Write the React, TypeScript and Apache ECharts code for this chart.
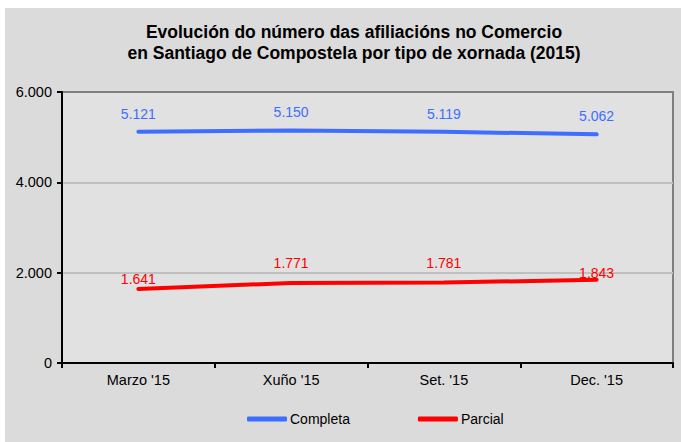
import React, { useEffect, useRef } from "react";
import * as echarts from "echarts";

const titleLines = [
  "Evolución do número das afiliacións no Comercio",
  "en Santiago de Compostela por tipo de xornada (2015)",
];
const categories = ["Marzo '15", "Xuño '15", "Set. '15", "Dec. '15"];
const completa = [5121, 5150, 5119, 5062];
const parcial = [1641, 1771, 1781, 1843];
const seriesNames = ["Completa", "Parcial"];
const yTickLabels = ["0", "2.000", "4.000", "6.000"];

const BLUE = "#3D6EFF";
const RED = "#FF0000";
const FONT = "'Liberation Sans', Arial, sans-serif";

const fmt = (v: number) => {
  const s = String(Math.round(v));
  return s.replace(/\B(?=(\d{3})+(?!\d))/g, ".");
};

const redLabelDistance = [3, 13, 13, 0];

export default function App() {
  const ref = useRef<HTMLDivElement>(null);
  useEffect(() => {
    if (!ref.current) return;
    const chart = echarts.init(ref.current, undefined, { renderer: "svg" });
    chart.setOption({
      animation: false,
      backgroundColor: "#DBDBDB",
      title: {
        text: titleLines.join("\n"),
        left: 349,
        top: 13,
        padding: 0,
        textAlign: "center",
        textStyle: {
          fontFamily: FONT,
          fontSize: 17.5,
          fontWeight: "bold",
          color: "#000",
          lineHeight: 21.5,
        },
      },
      grid: {
        left: 57,
        right: 8,
        top: 84,
        bottom: 79,
        show: true,
        backgroundColor: "#E1E1E1",
        borderColor: "#808080",
        borderWidth: 2,
      },
      legend: {
        left: 242,
        top: 404,
        padding: 0,
        itemWidth: 40,
        itemHeight: 5,
        itemGap: 68,
        icon: "roundRect",
        textStyle: { fontFamily: FONT, fontSize: 14, color: "#000", padding: [0, 0, 0, -2] },
        data: seriesNames,
      },
      xAxis: {
        type: "category",
        data: categories,
        boundaryGap: true,
        axisLine: { show: true, lineStyle: { color: "#000", width: 2 } },
        axisTick: { show: true, length: 5, lineStyle: { color: "#000", width: 2 } },
        axisLabel: { fontFamily: FONT, fontSize: 14.5, color: "#000", margin: 9 },
        splitLine: { show: false },
      },
      yAxis: {
        type: "value",
        min: 0,
        max: 6000,
        interval: 2000,
        axisLine: { show: true, lineStyle: { color: "#000", width: 2 } },
        axisTick: { show: true, length: 5, lineStyle: { color: "#000", width: 2 } },
        axisLabel: {
          fontFamily: FONT,
          fontSize: 14.5,
          color: "#000",
          margin: 10,
          formatter: (v: number) => yTickLabels[Math.round(v / 2000)] ?? fmt(v),
        },
        splitLine: {
          show: true,
          showMaxLine: false,
          showMinLine: false,
          lineStyle: { color: "#C0C0C0", width: 2 },
        },
      },
      series: [
        {
          name: seriesNames[0],
          type: "line",
          data: completa,
          color: BLUE,
          showSymbol: true,
          symbol: "circle",
          symbolSize: 0,
          lineStyle: { color: BLUE, width: 4, cap: "round" },
          label: {
            show: true,
            position: "top",
            distance: 11,
            fontFamily: FONT,
            fontSize: 14,
            color: BLUE,
            formatter: (p: any) => fmt(p.value),
          },
        },
        {
          name: seriesNames[1],
          type: "line",
          data: parcial.map((v, i) => ({
            value: v,
            label: { distance: redLabelDistance[i] },
          })),
          color: RED,
          showSymbol: true,
          symbol: "circle",
          symbolSize: 0,
          lineStyle: { color: RED, width: 4, cap: "round" },
          label: {
            show: true,
            position: "top",
            distance: 8,
            fontFamily: FONT,
            fontSize: 14,
            color: RED,
            formatter: (p: any) => fmt(p.value),
          },
        },
      ],
    });
    return () => chart.dispose();
  }, []);
  return (
    <div
      ref={ref}
      style={{ position: "absolute", left: 5, top: 8, width: 676, height: 434 }}
    />
  );
}
